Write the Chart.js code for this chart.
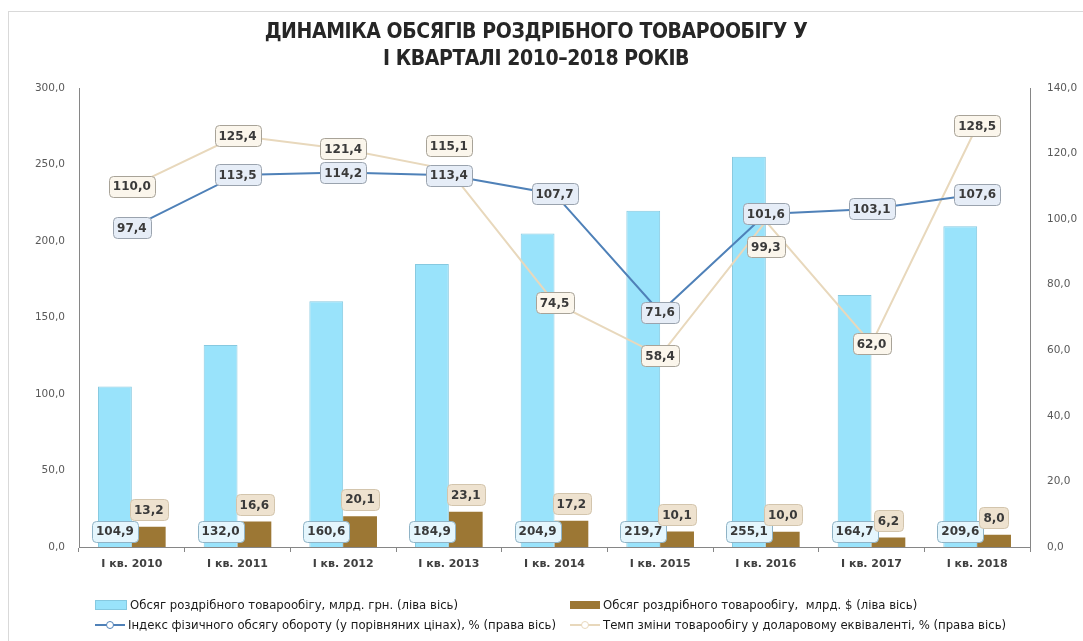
<!DOCTYPE html>
<html>
<head>
<meta charset="utf-8">
<script src="https://cdn.jsdelivr.net/npm/chart.js@4.4.1/dist/chart.umd.min.js"></script>
<style>
  body { margin: 0; background: #fff; }
  #wrap { position: relative; width: 1083px; height: 641px; overflow: hidden; }
  #frame { position: absolute; left: 8px; top: 11px; width: 1200px; height: 700px; border: 1px solid #d9d9d9; }
  #title { position: absolute; left: 0; top: 18px; width: 1072px; text-align: center;
    font-family: "Liberation Sans Narrow", "DejaVu Sans Condensed", sans-serif; font-weight: bold;
    font-size: 21px; letter-spacing: -0.4px; line-height: 27px; color: #262626; }
  .leg { position: absolute; font-family: "Liberation Sans Narrow", "DejaVu Sans Condensed", sans-serif;
    font-size: 13px; color: #1a1a1a; white-space: nowrap; line-height: 16px; }
  .sw { display: inline-block; width: 30px; height: 8px; vertical-align: middle; margin-right: 3px; position: relative; top: -1px; }
  .ln { display: inline-block; width: 30px; height: 10px; vertical-align: middle; margin-right: 3px; position: relative; top: -1px; }
  .ln i { position: absolute; left: 0; right: 0; top: 4px; height: 2px; }
  .ln b { position: absolute; left: 11px; top: 1px; width: 6px; height: 6px; border-radius: 50%; background: #fff; border: 1.5px solid; }
</style>
</head>
<body>
<div id="wrap">
  <div id="frame"></div>
  <canvas id="chart"></canvas>
  <div id="title">ДИНАМІКА ОБСЯГІВ РОЗДРІБНОГО ТОВАРООБІГУ У<br>І КВАРТАЛІ 2010–2018 РОКІВ</div>
  <div class="leg" style="left:95px; top:597px"><span class="sw" style="background:#99e3fb; border:1px solid #86c9e0"></span>Обсяг роздрібного товарообігу, млрд. грн. (ліва вісь)</div>
  <div class="leg" style="left:570px; top:597px"><span class="sw" style="background:#9c7734"></span>Обсяг роздрібного товарообігу,&nbsp; млрд. $ (ліва вісь)</div>
  <div class="leg" style="left:95px; top:617px"><span class="ln"><i style="background:#4f81b8"></i><b style="border-color:#4f81b8"></b></span>Індекс фізичного обсягу обороту (у порівняних цінах), % (права вісь)</div>
  <div class="leg" style="left:570px; top:617px"><span class="ln"><i style="background:#e8d8bc"></i><b style="border-color:#e8d8bc"></b></span>Темп зміни товарообігу у доларовому еквіваленті, % (права вісь)</div>
</div>
<script>
var labels = ["І кв. 2010", "І кв. 2011", "І кв. 2012", "І кв. 2013", "І кв. 2014", "І кв. 2015", "І кв. 2016", "І кв. 2017", "І кв. 2018"];
var turnoverUah = [104.9, 132.0, 160.6, 184.9, 204.9, 219.7, 255.1, 164.7, 209.6];
var turnoverUsd = [13.2, 16.6, 20.1, 23.1, 17.2, 10.1, 10.0, 6.2, 8.0];
var volumeIndex = [97.4, 113.5, 114.2, 113.4, 107.7, 71.6, 101.6, 103.1, 107.6];
var usdRate = [110.0, 125.4, 121.4, 115.1, 74.5, 58.4, 99.3, 62.0, 128.5];

// label nudges (px) where boxes would overlap
var usdRateShift = [0, 0, 0, -24, 0, 0, 25, 0, 0];

function fmt(v) { return v.toFixed(1).replace('.', ','); }

function box(ctx, x, y, text, fill, stroke) {
  ctx.font = 'bold 12px "DejaVu Sans", Verdana, sans-serif';
  var w = ctx.measureText(text).width + 8, h = 21;
  ctx.beginPath();
  ctx.roundRect(Math.round(x - w / 2) + 0.5, Math.round(y - h / 2) + 0.5, Math.round(w), h, 4);
  ctx.fillStyle = fill;
  ctx.fill();
  ctx.lineWidth = 1;
  ctx.strokeStyle = stroke;
  ctx.stroke();
  ctx.fillStyle = '#3a3a3a';
  ctx.textAlign = 'center';
  ctx.textBaseline = 'middle';
  ctx.fillText(text, x, y + 1);
}

var boxLabels = {
  id: 'boxLabels',
  afterDatasetsDraw: function(chart) {
    var ctx = chart.ctx, area = chart.chartArea;
    ctx.save();
    chart.getDatasetMeta(0).data.forEach(function(el, i) {
      box(ctx, el.x, area.bottom - 16, fmt(turnoverUah[i]), '#e5f6fd', '#8fb3c6');
    });
    chart.getDatasetMeta(1).data.forEach(function(el, i) {
      box(ctx, el.x, el.y - 17, fmt(turnoverUsd[i]), '#eee2cf', '#d3c5ad');
    });
    chart.getDatasetMeta(3).data.forEach(function(el, i) {
      box(ctx, el.x, el.y + usdRateShift[i], fmt(usdRate[i]), '#fbf6ec', '#a8a398');
    });
    chart.getDatasetMeta(2).data.forEach(function(el, i) {
      box(ctx, el.x, el.y, fmt(volumeIndex[i]), '#e6edf7', '#9aa3ae');
    });
    ctx.restore();
  }
};

var axisGray = '#868686';
var tickFont = { family: '"DejaVu Sans", Verdana, sans-serif', size: 10.5 };

new Chart(document.getElementById('chart'), {
  type: 'bar',
  data: {
    labels: labels,
    datasets: [
      { label: 'Обсяг роздрібного товарообігу, млрд. грн. (ліва вісь)', data: turnoverUah,
        backgroundColor: '#99e3fb', borderColor: '#86c9e0', borderWidth: 1, yAxisID: 'y', order: 2 },
      { label: 'Обсяг роздрібного товарообігу,  млрд. $ (ліва вісь)', data: turnoverUsd,
        backgroundColor: '#9c7734', borderWidth: 0, yAxisID: 'y', order: 3 },
      { type: 'line', label: 'Індекс фізичного обсягу обороту (у порівняних цінах), % (права вісь)', data: volumeIndex,
        borderColor: '#4f81b8', borderWidth: 2, pointRadius: 0, yAxisID: 'y1', order: 0 },
      { type: 'line', label: 'Темп зміни товарообігу у доларовому еквіваленті, % (права вісь)', data: usdRate,
        borderColor: '#e8d8bc', borderWidth: 2, pointRadius: 0, yAxisID: 'y1', order: 1 }
    ]
  },
  options: {
    responsive: true,
    maintainAspectRatio: false,
    animation: false,
    layout: { padding: { top: 88, bottom: 64, left: 0, right: 0 } },
    datasets: { bar: { categoryPercentage: 0.64, barPercentage: 1 } },
    plugins: { legend: { display: false }, title: { display: false }, tooltip: { enabled: false } },
    scales: {
      x: {
        offset: true,
        grid: { display: true, offset: true, drawOnChartArea: false, drawTicks: true, tickLength: 5, color: axisGray },
        border: { display: true, color: axisGray },
        ticks: { color: '#404040', font: { family: '"DejaVu Sans", Verdana, sans-serif', size: 11, weight: 'bold' }, padding: 6, maxRotation: 0 },
        afterFit: function(s) { s.height = 30; }
      },
      y: {
        position: 'left', min: 0, max: 300,
        grid: { display: false },
        border: { display: true, color: axisGray },
        ticks: { stepSize: 50, color: '#595959', font: tickFont, padding: 6, callback: function(v) { return fmt(v); } },
        afterFit: function(s) { s.width = 79; }
      },
      y1: {
        position: 'right', min: 0, max: 140,
        grid: { display: false },
        border: { display: true, color: axisGray },
        ticks: { stepSize: 20, color: '#595959', font: tickFont, padding: 9, callback: function(v) { return fmt(v); } },
        afterFit: function(s) { s.width = 53; }
      }
    }
  },
  plugins: [boxLabels]
});
</script>
</body>
</html>
